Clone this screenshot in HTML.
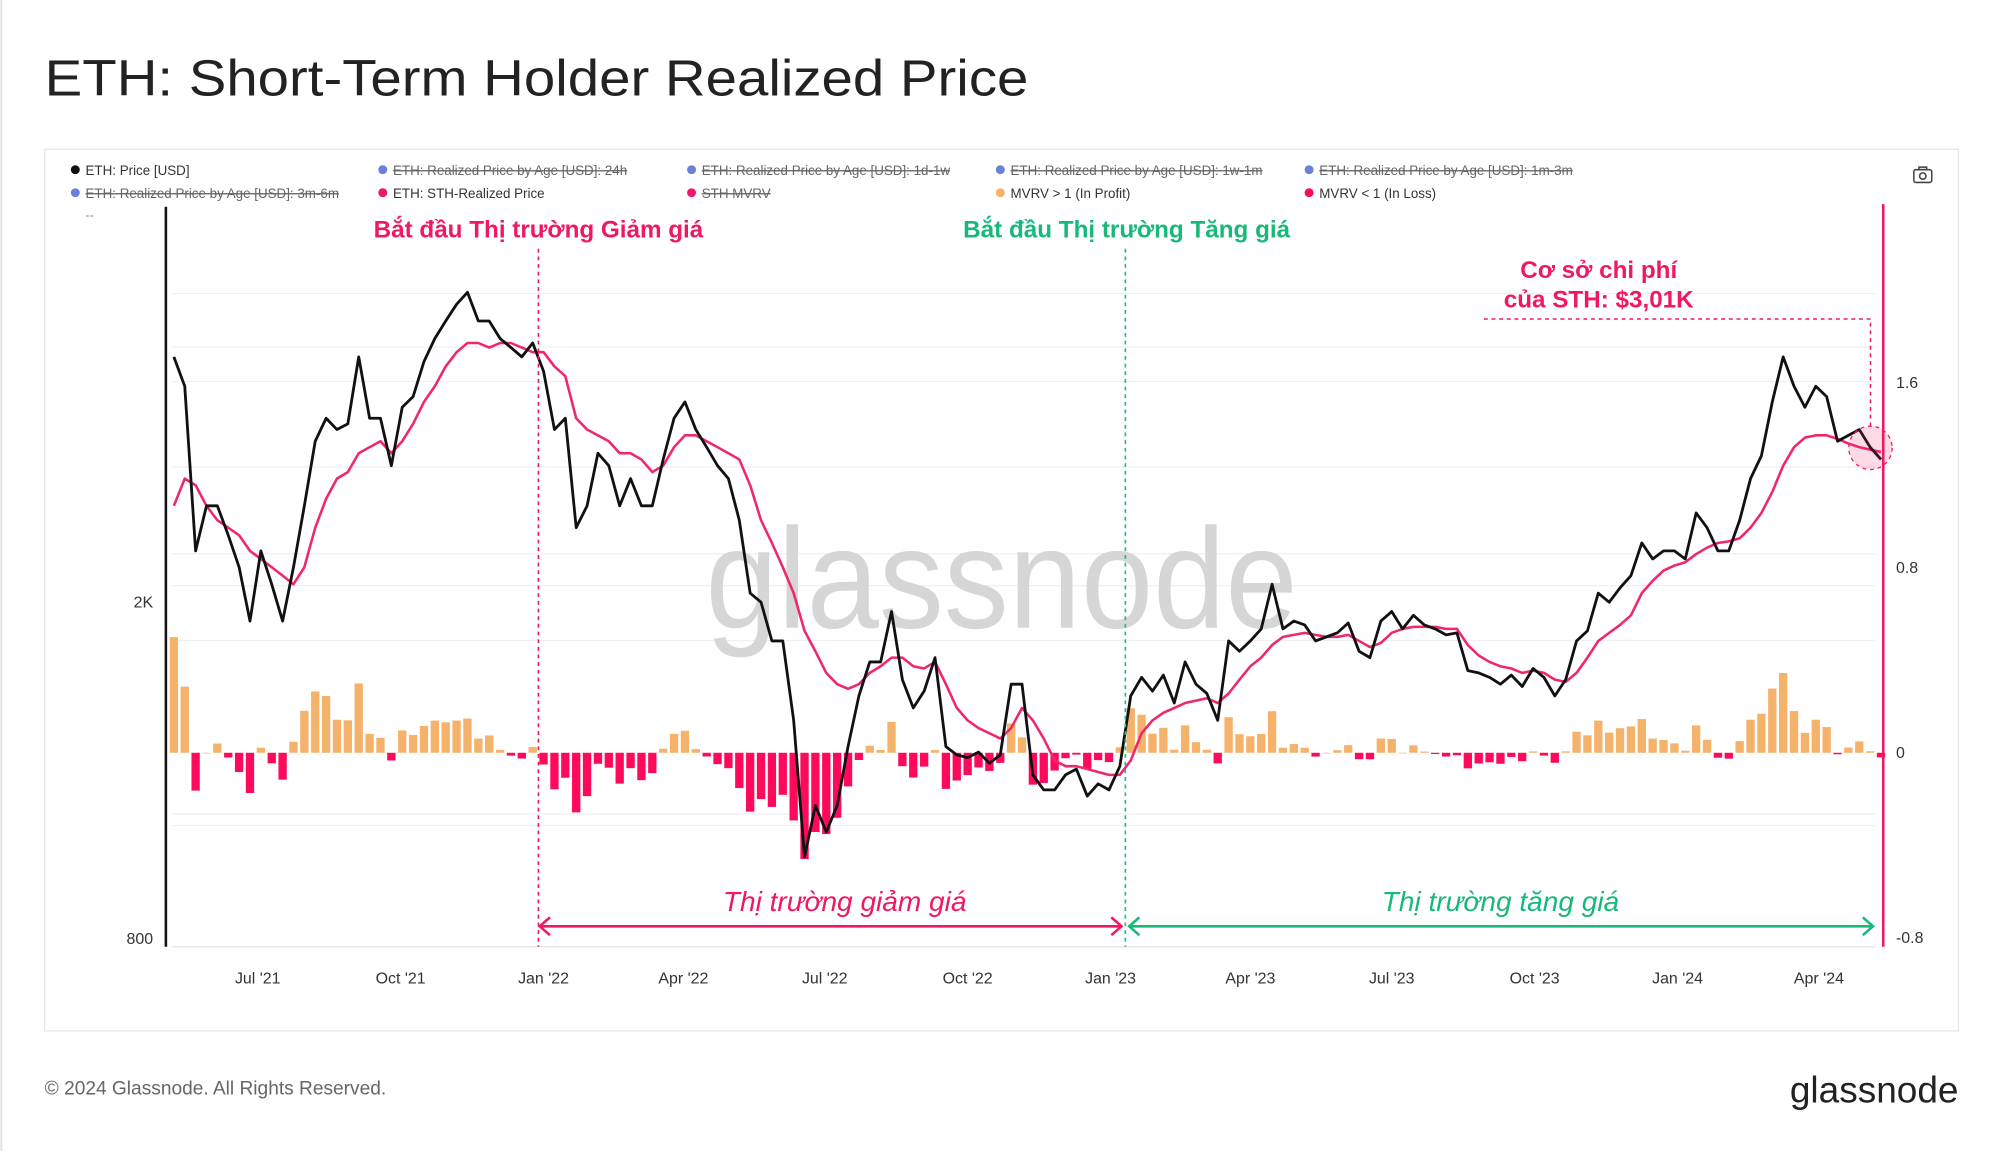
<!DOCTYPE html>
<html><head><meta charset="utf-8">
<style>
html,body{margin:0;padding:0;background:#fff;}
svg{display:block;font-family:"Liberation Sans","DejaVu Sans",sans-serif;}
</style></head>
<body>
<svg id="chart" width="2000" height="1152" viewBox="0 0 1567.5 902.9" xmlns="http://www.w3.org/2000/svg">
  <rect x="0" y="0" width="1567.5" height="902.9" fill="#fff"/>
  <line x1="1" y1="0" x2="1" y2="902" stroke="#e2e2e2" stroke-width="1.5"/>
  <text x="35" y="75" font-size="40" fill="#222" textLength="771" lengthAdjust="spacingAndGlyphs">ETH: Short-Term Holder Realized Price</text>
  <rect x="35" y="117" width="1500" height="691" fill="none" stroke="#e6e6e6" stroke-width="1"/>

  <g font-size="10.5">
    <g><circle cx="59" cy="133" r="3.5" fill="#111"/><text x="67" y="137" fill="#333">ETH: Price [USD]</text></g>
    <g><circle cx="300" cy="133" r="3.5" fill="#6b80d8"/><text x="308" y="137" fill="#666" text-decoration="line-through">ETH: Realized Price by Age [USD]: 24h</text></g>
    <g><circle cx="542" cy="133" r="3.5" fill="#6b80d8"/><text x="550" y="137" fill="#666" text-decoration="line-through">ETH: Realized Price by Age [USD]: 1d-1w</text></g>
    <g><circle cx="784" cy="133" r="3.5" fill="#6b80d8"/><text x="792" y="137" fill="#666" text-decoration="line-through">ETH: Realized Price by Age [USD]: 1w-1m</text></g>
    <g><circle cx="1026" cy="133" r="3.5" fill="#6b80d8"/><text x="1034" y="137" fill="#666" text-decoration="line-through">ETH: Realized Price by Age [USD]: 1m-3m</text></g>
    <g><circle cx="59" cy="151" r="3.5" fill="#6b80d8"/><text x="67" y="155" fill="#666" text-decoration="line-through">ETH: Realized Price by Age [USD]: 3m-6m</text></g>
    <g><circle cx="300" cy="151" r="3.5" fill="#f0186b"/><text x="308" y="155" fill="#333">ETH: STH-Realized Price</text></g>
    <g><circle cx="542" cy="151" r="3.5" fill="#f0186b"/><text x="550" y="155" fill="#666" text-decoration="line-through">STH MVRV</text></g>
    <g><circle cx="784" cy="151" r="3.5" fill="#f4b26b"/><text x="792" y="155" fill="#333">MVRV &gt; 1 (In Profit)</text></g>
    <g><circle cx="1026" cy="151" r="3.5" fill="#ff0a5a"/><text x="1034" y="155" fill="#333">MVRV &lt; 1 (In Loss)</text></g>
  </g>
  <text x="67" y="172" font-size="10" fill="#888">--</text>
  <g fill="none" stroke="#444" stroke-width="1.2">
    <rect x="1500" y="133" width="14" height="10" rx="1.5"/><rect x="1504" y="131" width="6" height="2"/><circle cx="1507" cy="138" r="2.5"/>
  </g>

  <g id="grid"></g>
  <text x="553" y="492" font-size="112" fill="#d6d6d6" textLength="464" lengthAdjust="spacingAndGlyphs">glassnode</text>
  <g id="bars"></g>
  <g id="lines"></g>

  <line x1="130" y1="162" x2="130" y2="742" stroke="#111" stroke-width="2"/>
  <line x1="1476" y1="160" x2="1476" y2="742" stroke="#f0185f" stroke-width="2"/>
  <line x1="135" y1="742" x2="1470" y2="742" stroke="#e2e2e2" stroke-width="1"/>
  <g id="axes" font-size="12.5" fill="#333"></g>

  <line x1="422" y1="195" x2="422" y2="742" stroke="#f0185f" stroke-width="1.3" stroke-dasharray="3,3"/>
  <line x1="882" y1="195" x2="882" y2="742" stroke="#17c08a" stroke-width="1.3" stroke-dasharray="3,3"/>
  <text x="422" y="186" font-size="19" font-weight="bold" fill="#f0185f" text-anchor="middle">Bắt đầu Thị trường Giảm giá</text>
  <text x="883" y="186" font-size="19" font-weight="bold" fill="#17b978" text-anchor="middle">Bắt đầu Thị trường Tăng giá</text>

  <text x="1253" y="218" font-size="19" font-weight="bold" fill="#f0185f" text-anchor="middle">Cơ sở chi phí</text>
  <text x="1253" y="241" font-size="19" font-weight="bold" fill="#f0185f" text-anchor="middle">của STH: $3,01K</text>
  <polyline points="1163,250 1466,250 1466,334" fill="none" stroke="#f0185f" stroke-width="1.2" stroke-dasharray="3,3"/>
  <circle cx="1466" cy="351" r="17" fill="rgba(240,24,95,0.16)" stroke="#f0185f" stroke-width="1" stroke-dasharray="3,3"/>

  <g stroke="#f0185f" stroke-width="2" fill="none">
    <line x1="423" y1="726" x2="879" y2="726"/><polyline points="431,719 423,726 431,733"/><polyline points="871,719 879,726 871,733"/>
  </g>
  <g stroke="#17b978" stroke-width="2" fill="none">
    <line x1="885" y1="726" x2="1468" y2="726"/><polyline points="893,719 885,726 893,733"/><polyline points="1460,719 1468,726 1460,733"/>
  </g>
  <text x="662" y="714" font-size="22" font-style="italic" fill="#f0185f" text-anchor="middle">Thị trường giảm giá</text>
  <text x="1176" y="714" font-size="22" font-style="italic" fill="#17b978" text-anchor="middle">Thị trường tăng giá</text>

  <text x="35" y="858" font-size="15" fill="#666">© 2024 Glassnode. All Rights Reserved.</text>
  <text x="1535" y="864" font-size="29" fill="#222" text-anchor="end">glassnode</text>
</svg>
<script>
// Weekly data starting 2021-05-08
const startDate = "2021-05-08";
const price = [3900,3600,2300,2600,2600,2400,2200,1900,2300,2100,1900,2200,2600,3100,3300,3200,3250,3900,3300,3300,2900,3400,3500,3850,4100,4300,4500,4650,4300,4300,4100,4000,3900,4050,3750,3200,3300,2450,2600,3000,2900,2600,2800,2600,2600,2950,3300,3450,3200,3050,2900,2800,2500,2050,2000,1800,1800,1450,1000,1150,1070,1150,1350,1550,1700,1700,1950,1620,1500,1570,1720,1350,1320,1310,1330,1290,1320,1600,1600,1250,1200,1200,1250,1270,1180,1220,1200,1280,1550,1630,1570,1640,1520,1700,1600,1560,1450,1800,1750,1800,1860,2100,1860,1900,1880,1800,1820,1840,1890,1750,1720,1900,1950,1860,1930,1880,1860,1830,1840,1660,1650,1630,1600,1640,1590,1670,1630,1550,1620,1800,1850,2050,2000,2080,2150,2350,2250,2300,2300,2250,2550,2450,2300,2300,2500,2800,2980,3450,3900,3600,3400,3600,3500,3100,3150,3200,3050,2950];
const realized = [2600,2800,2750,2600,2500,2450,2400,2300,2250,2200,2150,2100,2200,2450,2650,2800,2850,3000,3050,3100,3000,3100,3250,3450,3600,3800,3950,4050,4050,4000,4050,4050,4000,3950,3950,3800,3700,3300,3200,3150,3100,3000,3000,2950,2850,2900,3050,3150,3150,3100,3050,3000,2950,2750,2500,2350,2200,2050,1850,1750,1650,1600,1580,1600,1650,1680,1720,1720,1680,1670,1700,1600,1500,1450,1420,1400,1380,1420,1500,1450,1380,1300,1280,1280,1270,1260,1250,1250,1300,1400,1450,1480,1500,1520,1530,1540,1520,1560,1620,1680,1720,1780,1820,1830,1840,1830,1820,1820,1830,1800,1770,1790,1840,1860,1870,1870,1870,1860,1860,1780,1730,1700,1680,1670,1650,1660,1650,1620,1610,1650,1720,1800,1840,1880,1930,2050,2120,2180,2210,2230,2280,2320,2350,2360,2380,2450,2550,2700,2900,3050,3130,3150,3150,3120,3080,3050,3030,3010];
const mvrv = price.map((p, i) => p / realized[i] - 1);
const xTickLabels = ["Jul '21","Oct '21","Jan '22","Apr '22","Jul '22","Oct '22","Jan '23","Apr '23","Jul '23","Oct '23","Jan '24","Apr '24"];
const xTickDates = ["2021-07-01","2021-10-01","2022-01-01","2022-04-01","2022-07-01","2022-10-01","2023-01-01","2023-04-01","2023-07-01","2023-10-01","2024-01-01","2024-04-01"];
const leftTicks = [2000, 800];
const leftTickLabels = ["2K", "800"];
const rightTicks = [1.6, 0.8, 0, -0.8];
const rightTickLabels = ["1.6", "0.8", "0", "-0.8"];

const NS = "http://www.w3.org/2000/svg";
const DAY = 86400000;
const ref = Date.parse("2021-07-01");
function xOfDate(ms){ return 202 + ((ms - ref) / DAY / 30.44) * 37.06; }
function xOfIndex(i){ return xOfDate(Date.parse(startDate) + i * 7 * DAY); }
function yPrice(p){ return 472 - (Math.log10(p) - Math.log10(2000)) * 663; }
function yMvrv(v){ return 590 - v * 181.25; }
function mk(tag, attrs, parent){ const e = document.createElementNS(NS, tag); for (const k in attrs) e.setAttribute(k, attrs[k]); parent.appendChild(e); return e; }

const grid = document.getElementById("grid");
[230,272,299,366,434,459,502,638,647].forEach(y => {
  const l = mk("line", {x1:135, x2:1470, y1:y, y2:y, stroke:"#efefef", "stroke-width":1}, grid);
  
  
});

const bars = document.getElementById("bars");
const bw = 37.06 * 7 / 30.44;
mvrv.forEach((v, i) => {
  const x = xOfIndex(i);
  const y0 = yMvrv(0), y1 = yMvrv(v);
  const r = mk("rect", {x:(x - bw/2 + 1).toFixed(2), y:Math.min(y0,y1).toFixed(2), width:(bw - 2).toFixed(2), height:Math.max(0.5, Math.abs(y1-y0)).toFixed(2), fill: v >= 0 ? "#f4b26b" : "#ff0a5a"}, bars);
  
  
});

const lines = document.getElementById("lines");
function pathFor(arr){ return arr.map((p, i) => (i ? "L" : "M") + xOfIndex(i).toFixed(2) + "," + yPrice(p).toFixed(2)).join(" "); }
const rl = mk("path", {d:pathFor(realized), fill:"none", stroke:"#f0276a", "stroke-width":2, "stroke-linejoin":"round"}, lines);


const pl = mk("path", {d:pathFor(price), fill:"none", stroke:"#111", "stroke-width":2.2, "stroke-linejoin":"round"}, lines);



const axes = document.getElementById("axes");
xTickLabels.forEach((lab, i) => {
  const t = mk("text", {x:xOfDate(Date.parse(xTickDates[i])).toFixed(1), y:771, "text-anchor":"middle"}, axes);
  t.textContent = lab;
  
  
});
leftTicks.forEach((v, i) => {
  const t = mk("text", {x:120, y:(yPrice(v) + 4).toFixed(1), "text-anchor":"end"}, axes);
  t.textContent = leftTickLabels[i];
  
  
});
rightTicks.forEach((v, i) => {
  const t = mk("text", {x:1486, y:(yMvrv(v) + 4).toFixed(1)}, axes);
  t.textContent = rightTickLabels[i];
  
  
});
</script>
</body></html>
